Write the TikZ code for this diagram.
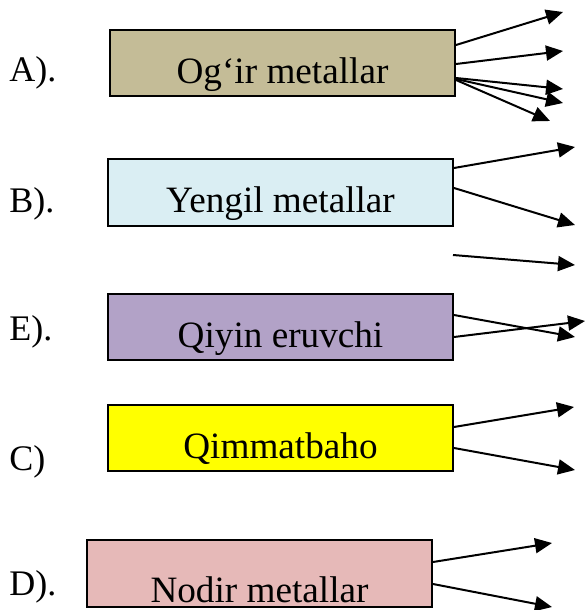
\documentclass[tikz,border=0pt]{standalone}
\usepackage{fontspec}
\setmainfont{Liberation Serif}
\usetikzlibrary{arrows.meta,calc}
\definecolor{tanbox}{HTML}{C4BC97}
\definecolor{bluebox}{HTML}{DAEEF3}
\definecolor{violetbox}{HTML}{B2A2C7}
\definecolor{yellowbox}{HTML}{FFFF00}
\definecolor{pinkbox}{HTML}{E6B9B8}
\begin{document}
\begin{tikzpicture}[x=0.5pt, y=-0.5pt, >={Triangle[length=8.5pt,width=7.5pt]},
      box/.style={draw, line width=1pt, inner sep=0pt, anchor=south west, align=center,
        minimum width=172.5pt, text height=26.5pt, text depth=6.5pt,
        font=\fontsize{18.6}{20}\selectfont},
      tag/.style={anchor=base west, inner sep=0pt, font=\fontsize{18}{20}\selectfont},
      arr/.style={->, line width=1pt}]
    \useasboundingbox (0,0) rectangle (586,610);
    % boxes
    \node[box, fill=tanbox, text height=27pt, text depth=6pt] (ogir) at (109,97) {Og‘ir metallar};
    \node[box, fill=bluebox, text height=26.5pt, text depth=7pt] (yengil) at (107,227) {Yengil metallar};
    \node[box, fill=violetbox] (qiyin) at (107,361) {Qiyin eruvchi};
    \node[box, fill=yellowbox] (qimmat) at (107,472) {Qimmatbaho};
    \node[box, fill=pinkbox, text height=31pt, text depth=2.5pt] (nodir) at (86,608) {Nodir metallar};
    % letters
    \node[tag] (tA) at (9,82) {A).};
    \node[tag] (tB) at (9,212) {B).};
    \node[tag] (tE) at (9,340) {E).};
    \node[tag] (tC) at (9,470) {C)};
    \node[tag] (tD) at (9,595) {D).};
    % free ends
    \coordinate (a1) at (563,12);
    \coordinate (a2) at (563,51);
    \coordinate (a3) at (563,89);
    \coordinate (a4) at (563,103);
    \coordinate (a5) at (550,121);
    \coordinate (b1) at (575,147);
    \coordinate (b2) at (575,225);
    \coordinate (b3s) at (453,255);
    \coordinate (b3) at (575,265);
    \coordinate (e1) at (575,337);
    \coordinate (e2) at (585,321);
    \coordinate (c1) at (574,407);
    \coordinate (c2) at (575,470);
    \coordinate (d1) at (552,543);
    \coordinate (d2) at (552,607);
    % arrows
    \draw[arr] ($(ogir.north east)+(0,16)$) -- (a1);
    \draw[arr] ($(ogir.north east)+(0,35)$) -- (a2);
    \draw[arr] ($(ogir.north east)+(0,49)$) -- (a3);
    \draw[arr] ($(ogir.north east)+(0,50)$) -- (a4);
    \draw[arr] ($(ogir.north east)+(0,51)$) -- (a5);
    \draw[arr] ($(yengil.north east)+(0,10)$) -- (b1);
    \draw[arr] ($(yengil.north east)+(0,30)$) -- (b2);
    \draw[arr] (b3s) -- (b3);
    \draw[arr] ($(qiyin.north east)+(0,22)$) -- (e1);
    \draw[arr] ($(qiyin.north east)+(0,44)$) -- (e2);
    \draw[arr] ($(qimmat.north east)+(0,23)$) -- (c1);
    \draw[arr] ($(qimmat.north east)+(0,44)$) -- (c2);
    \draw[arr] ($(nodir.north east)+(0,23)$) -- (d1);
    \draw[arr] ($(nodir.north east)+(0,45)$) -- (d2);
  \end{tikzpicture}
\end{document}
